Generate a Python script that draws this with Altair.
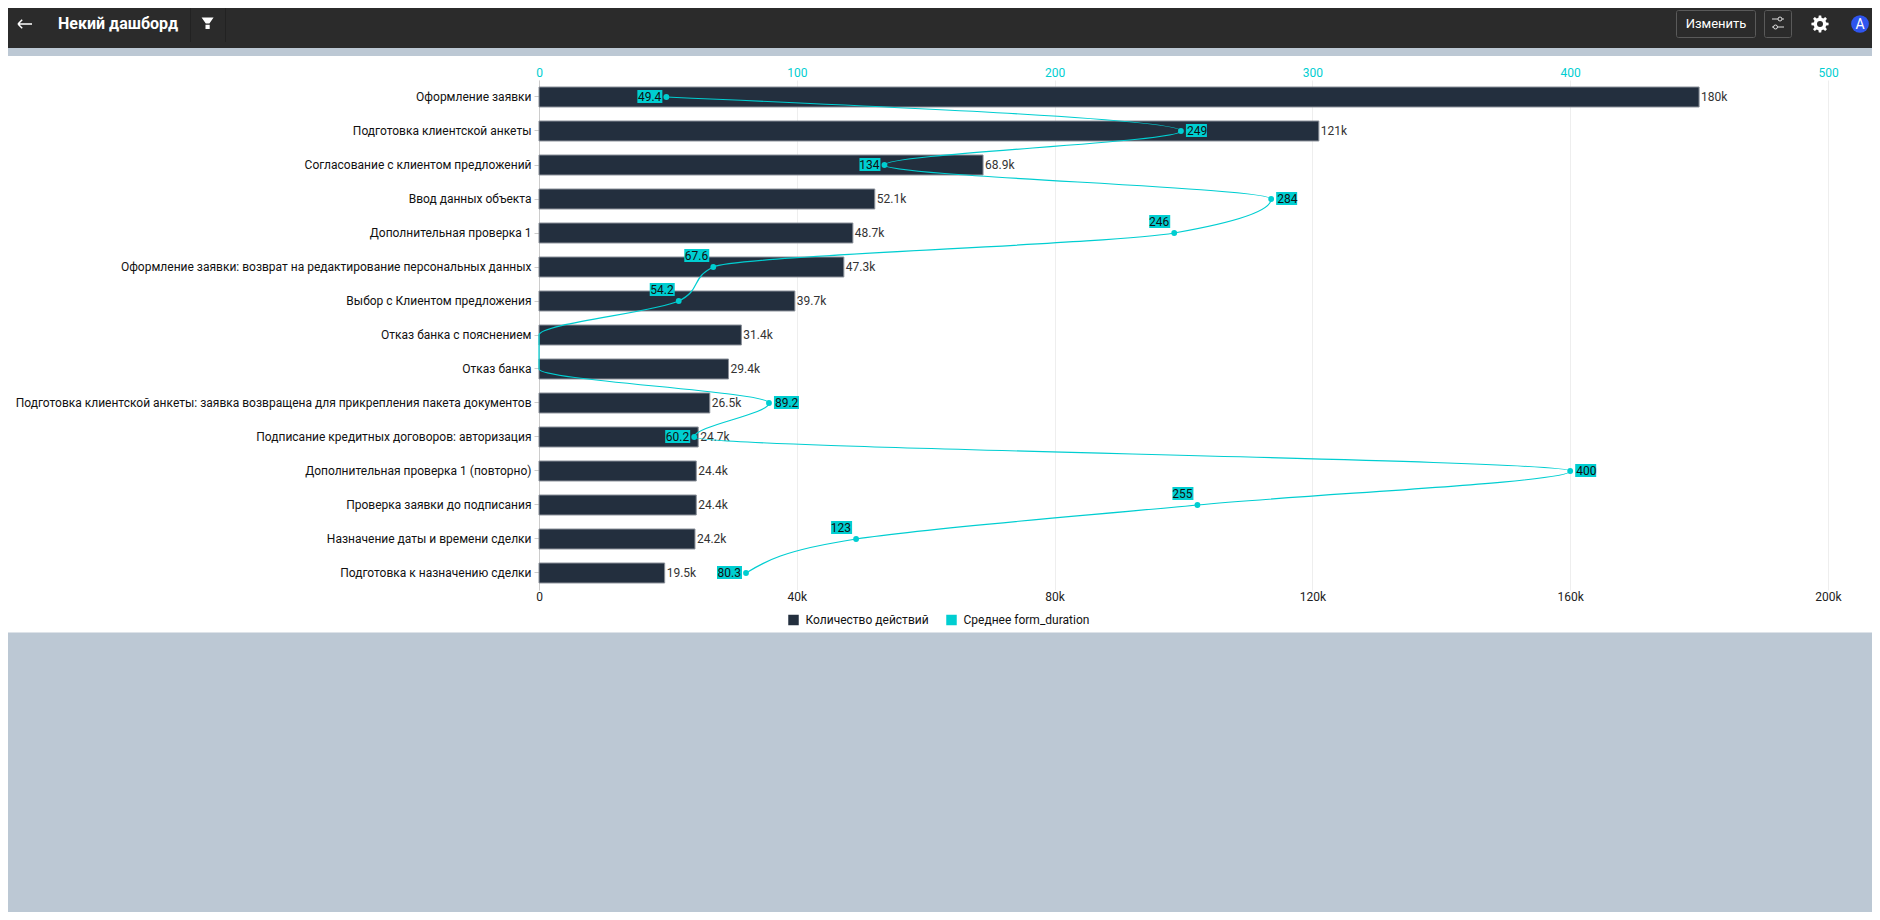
import math
import altair as alt
import pandas as pd

categories = [
    "Оформление заявки",
    "Подготовка клиентской анкеты",
    "Согласование с клиентом предложений",
    "Ввод данных объекта",
    "Дополнительная проверка 1",
    "Оформление заявки: возврат на редактирование персональных данных",
    "Выбор с Клиентом предложения",
    "Отказ банка с пояснением",
    "Отказ банка",
    "Подготовка клиентской анкеты: заявка возвращена для прикрепления пакета документов",
    "Подписание кредитных договоров: авторизация",
    "Дополнительная проверка 1 (повторно)",
    "Проверка заявки до подписания",
    "Назначение даты и времени сделки",
    "Подготовка к назначению сделки",
]
counts = [180000, 121000, 68900, 52100, 48700, 47300, 39700, 31400, 29400, 26500, 24700, 24400, 24400, 24200, 19500]
durations = [49.4, 249, 134, 284, 246.4, 67.6, 54.2, 0, 0, 89.2, 60.2, 400, 255.4, 123, 80.3]
duration_labels = ["49.4", "249", "134", "284", "246", "67.6", "54.2", "", "", "89.2", "60.2", "400", "255", "123", "80.3"]
label_sides = ["left", "right", "left", "right", "top", "top", "top", "", "", "right", "left", "right", "top", "top", "left"]
series_names = ["Количество действий", "Среднее form_duration"]

DARK = "#232f3e"
TEAL = "#00ced1"
OX, OY = 539, 80  # page position of the plot origin


def px(x):
    return x - OX


def py(y):
    return y - OY


df = pd.DataFrame({
    "cat": categories, "count": counts, "avg": durations,
    "avg_label": duration_labels, "side": label_sides, "idx": range(len(categories)),
})

y_band = alt.Scale(type="band", domain=categories, paddingInner=0.4118, paddingOuter=0.2059)
y_enc = alt.Y("cat:N", sort=categories, title=None, scale=y_band,
              axis=alt.Axis(labelLimit=700, labelFontSize=12, labelColor="#111", domainColor="#ccc",
                            tickColor="#ccc", tickSize=5, labelPadding=3, grid=False))
y_plain = alt.Y("cat:N", sort=categories, scale=y_band, axis=None)
count_scale = alt.Scale(domain=[0, 200000], nice=False)
avg_scale = alt.Scale(domain=[0, 500], nice=False)
x_count = alt.X("count:Q", scale=count_scale, axis=None)
x_avg = alt.X("avg:Q", scale=avg_scale, axis=None)
color_scale = alt.Scale(domain=series_names, range=[DARK, TEAL])
legend = alt.Legend(title=None, orient="none", legendX=248.5, legendY=534, direction="horizontal",
                    symbolType="square", symbolSize=110, labelFontSize=12, labelColor="#111",
                    columnPadding=16, symbolStrokeWidth=0, labelOffset=6)

base = alt.Chart(df)
one = alt.Chart(pd.DataFrame({"k": [0]}))


# page furniture, drawn outside the plot
def band(x0, x1, y0, y1, color):
    return one.mark_rect(color=color).encode(
        x=alt.value(px(x0)), x2=alt.value(px(x1)), y=alt.value(py(y0)), y2=alt.value(py(y1)))


def label(text, x, y, **kw):
    return one.mark_text(text=text, **kw).encode(x=alt.value(px(x)), y=alt.value(py(y)))


def icon(shape, x, y, size, **kw):
    return one.mark_point(shape=shape, size=size, **kw).encode(x=alt.value(px(x)), y=alt.value(py(y)))


def box(x0, x1, y0, y1):
    return one.mark_rect(fillOpacity=0, stroke="#5a5a5a", strokeWidth=1, cornerRadius=2).encode(
        x=alt.value(px(x0)), x2=alt.value(px(x1)), y=alt.value(py(y0)), y2=alt.value(py(y1)))


def sep(x):
    return one.mark_rule(color="#222222").encode(
        x=alt.value(px(x)), y=alt.value(py(6)), y2=alt.value(py(42)))


def gear_path(teeth=8, outer=1.0, inner=0.74):
    pts = []
    for i in range(teeth):
        a = 2 * math.pi * i / teeth
        w = math.pi / teeth
        for r, t in [(inner, a - w * 0.62), (outer, a - w * 0.36), (outer, a + w * 0.36), (inner, a + w * 0.62)]:
            pts.append(f"{r * math.cos(t):.3f},{r * math.sin(t):.3f}")
    return "M" + " L".join(pts) + " Z"


furniture = [
    band(8, 1872, 8, 48, "#2b2b2b"),
    band(8, 1872, 48, 56, "#bcc8d4"),
    band(8, 1872, 632.5, 912, "#bcc8d4"),
    icon("M-1,0 L1,0 M-1,0 L-0.4,-0.6 M-1,0 L-0.4,0.6", 25, 24, 196, filled=False, stroke="white", strokeWidth=1.5, opacity=1),
    label("Некий дашборд", 58, 24, align="left", baseline="middle", fontSize=16, fontWeight="bold", color="white"),
    sep(190.5), sep(225.5),
    icon("M-1,-1 L1,-1 L0.3,0 L-0.3,0 Z M-0.35,0.2 L0.35,0.2 L0.35,0.9 L-0.35,0.9 Z", 207.6, 23.5, 144, filled=True, color="white", opacity=1),
    box(1676.5, 1755.5, 10.5, 37.5),
    label("Изменить", 1716, 24, align="center", baseline="middle", fontSize=13, color="white"),
    box(1764.5, 1791.5, 10.5, 37.5),
    one.mark_rule(color="#dddddd").encode(x=alt.value(px(1772)), x2=alt.value(px(1784)), y=alt.value(py(19))),
    one.mark_rule(color="#dddddd").encode(x=alt.value(px(1772)), x2=alt.value(px(1784)), y=alt.value(py(27))),
    icon("circle", 1780, 19, 16, filled=True, color="#2b2b2b", stroke="#dddddd", strokeWidth=1, opacity=1),
    icon("circle", 1775.5, 27, 16, filled=True, color="#2b2b2b", stroke="#dddddd", strokeWidth=1, opacity=1),
    icon(gear_path(), 1820, 24, 300, filled=True, color="white", opacity=1),
    icon("circle", 1820, 24, 36, filled=True, color="#2b2b2b", opacity=1),
    icon("circle", 1860, 24, 314, filled=True, color="#2f55ee", opacity=1),
    label("A", 1860, 24.5, align="center", baseline="middle", fontSize=14, color="white"),
]

bars = base.transform_calculate(s="'%s'" % series_names[0]).mark_bar(stroke="#8a9099", strokeWidth=1).encode(
    x=alt.X("count:Q", scale=count_scale, title=None,
            axis=alt.Axis(orient="bottom", values=[0, 40000, 80000, 120000, 160000, 200000],
                          labelExpr="datum.value === 0 ? '0' : (datum.value / 1000) + 'k'",
                          grid=True, gridColor="#eeeeee", ticks=False, domain=False, labelFlush=False,
                          labelFontSize=12, labelColor="#222", labelPadding=1)),
    y=y_enc,
    color=alt.Color("s:N", scale=color_scale, legend=legend),
)

bar_labels = base.mark_text(align="left", baseline="middle", dx=2, fontSize=12, color="#333").encode(
    x=x_count, y=y_plain, text=alt.Text("count:Q", format=".3~s"))

# a hair-thin horizontal area on a continuous row scale: Vega-Lite passes orient on to
# area marks, which gives a curve that is monotone in y
line = base.transform_calculate(avg_end="datum.avg + 0.01").mark_area(
    orient="horizontal", interpolate="monotone", fillOpacity=0, stroke=TEAL, strokeWidth=1.2
).encode(
    x=alt.X("avg:Q", scale=avg_scale, title=None,
            axis=alt.Axis(orient="top", values=[0, 100, 200, 300, 400, 500], grid=False, ticks=False,
                          domain=False, labelFlush=False, labelFontSize=12, labelColor=TEAL, labelPadding=1)),
    x2="avg_end:Q",
    y=alt.Y("idx:Q", scale=alt.Scale(domain=[-0.5, len(categories) - 0.5], reverse=True, nice=False, zero=False), axis=None),
)

marked = base.transform_filter("datum.avg > 0")
points = marked.mark_point(filled=True, size=34, color=TEAL, opacity=1).encode(x=x_avg, y=y_plain)

tags, texts = [], []
for side, gap, lift in [("left", -4, 0), ("right", 5, 0), ("top", -4, -11)]:
    sel = marked.transform_filter(f"datum.side === '{side}'")
    for chars, w in [(3, 21), (4, 25)]:
        off = gap + w / 2 if gap > 0 else gap - w / 2
        tags.append(
            sel.transform_filter(f"length(datum.avg_label) === {chars}")
            .transform_calculate(s="'%s'" % series_names[1])
            .mark_rect(width=w, height=13, xOffset=off, yOffset=lift - 0.5)
            .encode(x=x_avg, y=y_plain, color=alt.Color("s:N", scale=color_scale, legend=legend))
        )
    texts.append(
        sel.mark_text(align="right" if gap < 0 else "left", baseline="middle", fontSize=12, color="#111",
                      dx=gap - 1 if gap < 0 else gap + 1, dy=lift - 0.5)
        .encode(x=x_avg, y=y_plain, text="avg_label:N")
    )

chart = alt.layer(*furniture, bars, bar_labels, line, points, *tags, *texts).resolve_scale(
    x="independent", y="independent"
).resolve_axis(x="independent", y="independent").properties(
    width=1289, height=510,
    padding={"left": 531, "top": 72, "right": 44, "bottom": 322},
    autosize=alt.AutoSizeParams(type="none"),
    background="white",
).configure(font="Roboto", view=alt.ViewConfig(stroke=None))

chart.save("out.html", embed_options={"renderer": "svg", "actions": False})
